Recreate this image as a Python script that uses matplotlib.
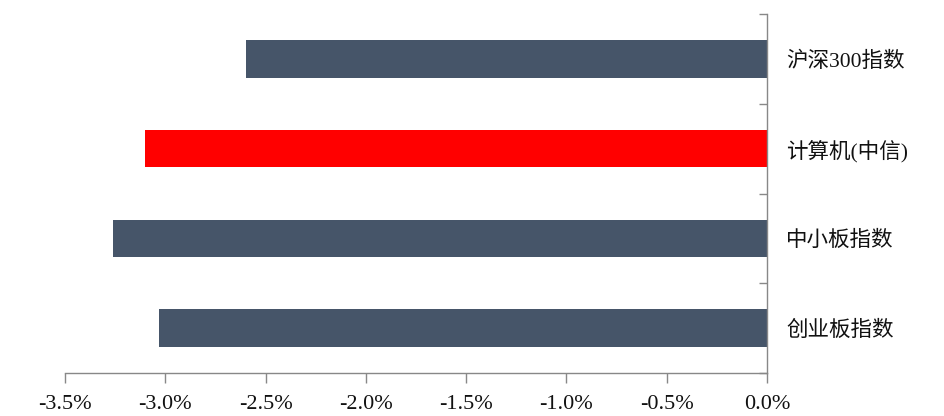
import numpy as np
import matplotlib.pyplot as plt
from matplotlib.ticker import FuncFormatter, FixedLocator

categories = ["沪深300指数", "计算机(中信)", "中小板指数", "创业板指数"]
returns = [-2.60, -3.10, -3.26, -3.03]
bar_colors = ["#465569", "#FF0000", "#465569", "#465569"]
xticks = [-3.5, -3.0, -2.5, -2.0, -1.5, -1.0, -0.5, 0.0]

plt.rcParams['font.family'] = ['Liberation Serif', 'Noto Sans CJK SC', 'DejaVu Sans']

fig = plt.figure(figsize=(9.44, 4.16), dpi=100)
ax = fig.add_axes([65/944, 1 - 373/416, (767 - 65)/944, (373 - 14)/416])

y = np.arange(len(categories))
ax.barh(y, returns, height=0.42, color=bar_colors)

ax.set_xlim(-3.5, 0)
ax.set_ylim(len(categories) - 0.5, -0.5)

for s in ["top", "left"]:
    ax.spines[s].set_visible(False)
for s in ["right", "bottom"]:
    ax.spines[s].set_color("#888888")
    ax.spines[s].set_linewidth(1.0)

ax.set_xticks(xticks)
ax.xaxis.set_major_formatter(FuncFormatter(lambda v, p: "%.1f%%" % v))
ax.tick_params(axis="x", direction="out", length=7, width=1.0, color="#888888",
               labelsize=16, pad=9, labelcolor="#111111")

# y axis: labels on right, ticks between categories
ax.yaxis.tick_right()
ax.set_yticks(y)
ax.set_yticklabels(categories)
ax.yaxis.set_minor_locator(FixedLocator(np.arange(-0.5, len(categories), 1.0)))
ax.tick_params(axis="y", which="major", length=0, pad=14, labelsize=15.5,
               labelcolor="#111111", left=False, right=True)
ax.tick_params(axis="y", which="minor", direction="in", length=6, width=1.0,
               color="#888888", left=False, right=True)

fig.savefig("out.png", dpi=100)
